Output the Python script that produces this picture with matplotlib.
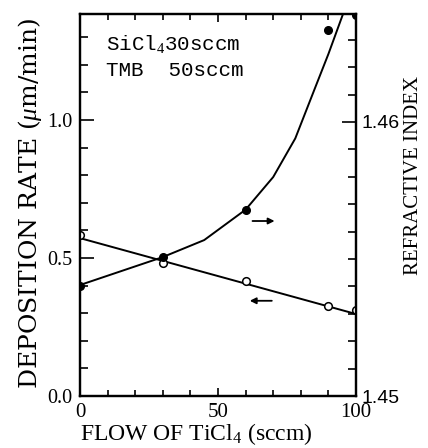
import matplotlib
matplotlib.use("Agg")
import matplotlib.pyplot as plt
from matplotlib.ticker import MultipleLocator

plt.rcParams['font.family'] = ['Liberation Serif', 'DejaVu Serif']
plt.rcParams['mathtext.fontset'] = 'custom'
plt.rcParams['mathtext.rm'] = 'Liberation Serif'
plt.rcParams['mathtext.it'] = 'Liberation Serif:italic'

# Deposition rate (open circles, left axis)
dep_x = [0, 30, 60, 90, 100]
dep_y = [0.583, 0.481, 0.416, 0.325, 0.312]
dep_line_x = [0, 100]
dep_line_y = [0.572, 0.297]

# Refractive index (filled dots, right axis)
ri_x = [0, 30, 60, 90, 100]
ri_y = [1.45403, 1.45507, 1.45679, 1.46336, 1.46392]
ri_curve_x = [0, 30, 45, 60, 70, 78, 85, 90, 95.3]
ri_curve_y = [1.45405, 1.45507, 1.45569, 1.45680, 1.45799, 1.45940, 1.46120, 1.46248, 1.46394]

fig = plt.figure(figsize=(4.28, 4.48), dpi=100)
ax = fig.add_axes([80/428, 52/448, 276/428, 382/448])
ax2 = ax.twinx()

ax.set_xlim(0, 100)
ax.set_ylim(0, 1.384)
ax2.set_ylim(1.45, 1.46394)

lw = 1.4
ax.plot(dep_line_x, dep_line_y, color='black', lw=lw)
ax.plot(dep_x, dep_y, 'o', mfc='white', mec='black', ms=5.5, mew=1.1, zorder=5)
ax2.plot(ri_curve_x, ri_curve_y, color='black', lw=lw)
ax2.plot(ri_x, ri_y, 'o', color='black', ms=5.5, zorder=5)

# arrows
ax.annotate('', xy=(71.5, 0.634), xytext=(61.5, 0.634),
            arrowprops=dict(arrowstyle='-|>', color='black', lw=1.3, mutation_scale=9))
ax.annotate('', xy=(60.5, 0.345), xytext=(70.5, 0.345),
            arrowprops=dict(arrowstyle='-|>', color='black', lw=1.3, mutation_scale=9))

mono = ['Liberation Mono', 'DejaVu Sans Mono']
ax.text(9.5, 1.275, 'SiCl$_4$30sccm', fontsize=15, va='center', ha='left', family=mono)
ax.text(9.5, 1.178, 'TMB  50sccm', fontsize=15, va='center', ha='left', family=mono)

for a in (ax, ax2):
    for s in a.spines.values():
        s.set_linewidth(1.6)

ax.xaxis.set_major_locator(MultipleLocator(50))
ax.xaxis.set_minor_locator(MultipleLocator(10))
ax.yaxis.set_major_locator(MultipleLocator(0.5))
ax.yaxis.set_minor_locator(MultipleLocator(0.1))
ax2.yaxis.set_major_locator(MultipleLocator(0.01))
ax2.yaxis.set_minor_locator(MultipleLocator(0.001))

ax.tick_params(axis='x', which='both', direction='in', top=True, bottom=True)
ax.tick_params(axis='x', which='major', length=6, width=1.2, labelsize=15, pad=5)
ax.tick_params(axis='x', which='minor', length=4, width=1.2)
ax.tick_params(axis='y', which='major', direction='in', length=10, width=1.2, labelsize=14.5, pad=5.5)
ax.tick_params(axis='y', which='minor', direction='in', length=6, width=1.2)
ax2.tick_params(axis='y', which='major', direction='in', length=10, width=1.2, labelsize=14, pad=4)
ax2.tick_params(axis='y', which='minor', direction='in', length=6, width=1.2)

ax.set_xticks([0, 50, 100])
ax.set_xticklabels(['0', '50', '100'])
ax.set_yticks([0, 0.5, 1.0])
ax.set_yticklabels(['0.0', '0.5', '1.0'])
ax2.set_yticks([1.45, 1.46])
ax2.set_yticklabels(['1.45', '1.46'], family=['Liberation Sans Narrow', 'Liberation Sans'])

fig.text(196/428, 1 - 434/448, 'FLOW OF TiCl$_4$ (sccm)', fontsize=17,
         ha='center', va='center')
fig.text(30/428, 1 - 203/448, 'DEPOSITION RATE ($\\mu$m/min)', fontsize=18,
         ha='center', va='center', rotation=90, family=['DejaVu Serif'])
fig.text(413/428, 1 - 175/448, 'REFRACTIVE INDEX', fontsize=15,
         ha='center', va='center', rotation=90)

fig.savefig('out.png', dpi=100)
